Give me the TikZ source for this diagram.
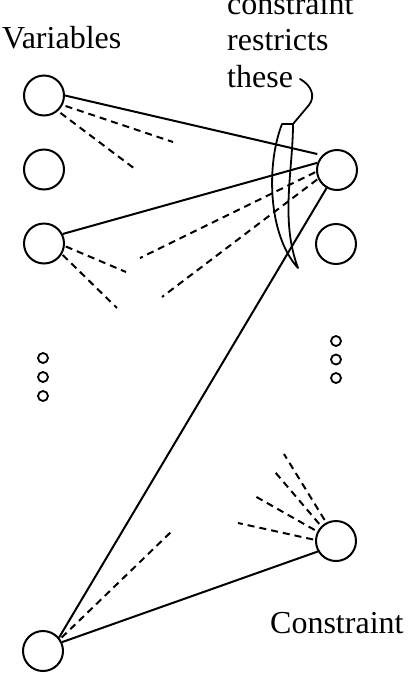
\documentclass[tikz,border=0pt]{standalone}
\usepackage{fontspec}
\setmainfont{Liberation Serif}
\begin{document}
\begin{tikzpicture}[x=1pt,y=-1pt,
  every node/.style={inner sep=0pt},
  vnode/.style={circle,draw,line width=2pt,minimum size=40pt},
  dotnode/.style={circle,draw,line width=1.8pt,minimum size=10pt},
  lbl/.style={anchor=base west,font=\fontsize{32}{37}\selectfont},
  solidline/.style={line width=2pt},
  dashline/.style={line width=2pt,dash pattern=on 7pt off 5pt},
]
\useasboundingbox (0,0) rectangle (409,673);

% labels
\node[lbl] (varlbl) at (2,48) {Variables};
\node[lbl] (t1) at (227,14) {constraint};
\node[lbl] (t2) at (227,50) {restricts};
\node[lbl] (t3) at (227,87) {these};
\node[lbl] (conlbl) at (270,633) {Constraint};

% variable nodes
\node[vnode] (v1) at (44,95.5) {};
\node[vnode] (v2) at (44,169.5) {};
\node[vnode] (v3) at (44,243.5) {};
\node[vnode] (vn) at (43,651) {};

% constraint nodes
\node[vnode] (cA) at (337,170) {};
\node[vnode] (cB) at (336,244) {};
\node[vnode] (cC) at (336,541) {};

% ellipsis dots
\node[dotnode] (ld1) at (43,358) {};
\node[dotnode] (ld2) at (43,377) {};
\node[dotnode] (ld3) at (43,396) {};
\node[dotnode] (rd1) at (336,341) {};
\node[dotnode] (rd2) at (336,359.5) {};
\node[dotnode] (rd3) at (336,378) {};

% free ends of dashed stubs
\coordinate (e1) at (173,142);
\coordinate (e2) at (135,169);
\coordinate (e3) at (126,272);
\coordinate (e4) at (117,308);
\coordinate (e5) at (140,258);
\coordinate (e6) at (162,297);
\coordinate (e7) at (172,531);
\coordinate (e8) at (284,454);
\coordinate (e9) at (275,472);
\coordinate (e10) at (253,495);
\coordinate (e11) at (238,523);

% solid connectors
\draw[solidline,shorten >=5pt] (v1.east) -- (cA.135);
\draw[solidline] (v3.27) -- (cA.160);
\draw[solidline] (cA.240) -- (vn.40);
\draw[solidline] (vn.25) -- (cC.210);

% dashed stubs
\draw[dashline,shorten <=3pt] (v1.-27) -- (e1);
\draw[dashline,shorten <=3pt] (v1.-48) -- (e2);
\draw[dashline,shorten <=1pt] (v3.-7) -- (e3);
\draw[dashline,shorten <=1pt] (v3.-31) -- (e4);
\draw[dashline,shorten <=1pt] (cA.185) -- (e5);
\draw[dashline,shorten <=1pt] (cA.205) -- (e6);
\draw[dashline,shorten <=2pt] (vn.35) -- (e7);
\draw[dashline,shorten <=3pt] (cC.118) -- (e8);
\draw[dashline,shorten <=3pt] (cC.135) -- (e9);
\draw[dashline,shorten <=3pt] (cC.153) -- (e10);
\draw[dashline,shorten <=2pt] (cC.177) -- (e11);

% crescent marking the restricted edges
\coordinate (crTL) at (282,124);
\coordinate (crTR) at (293,124);
\coordinate (crTip) at (298,268);
\draw[line width=1.8pt,line join=round]
  (crTL) -- (crTR)
  .. controls (293,170) and (280,220) .. (crTip)
  .. controls (268,235) and (266,165) .. (crTL) -- cycle;

% leader from the text to the crescent
\coordinate (ldStart) at (300,79);
\draw[line width=1.8pt,line cap=round]
  (ldStart) .. controls (311,85) and (316,96) .. (309,105) -- (crTR);
\end{tikzpicture}
\end{document}
